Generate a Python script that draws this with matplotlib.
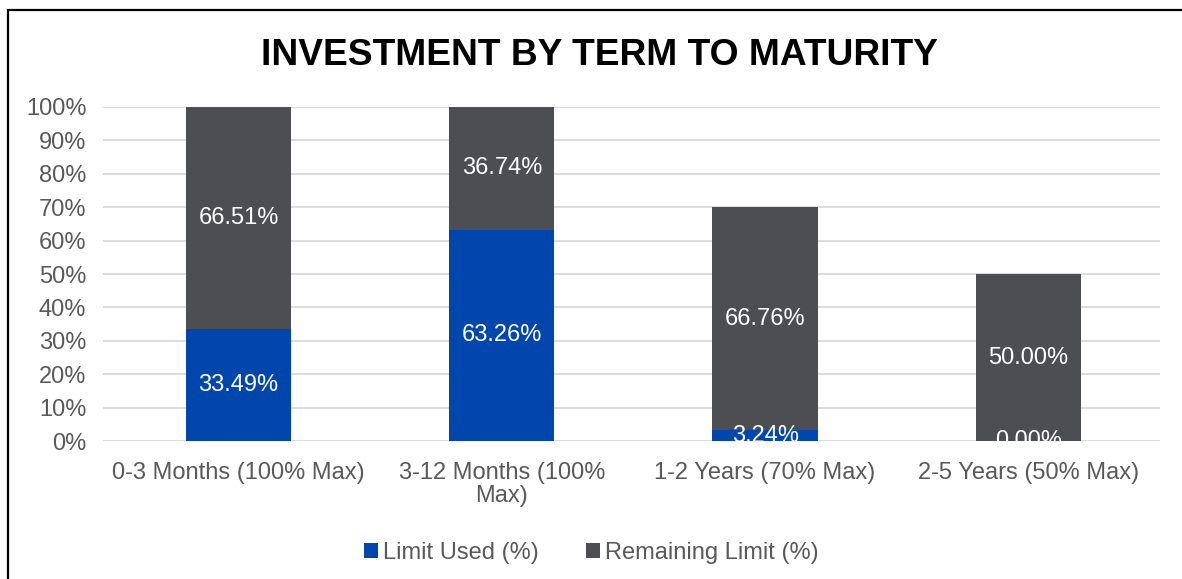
import matplotlib.pyplot as plt
from matplotlib.patches import Rectangle
from matplotlib.ticker import PercentFormatter

plt.rcParams['font.family'] = ['Liberation Sans', 'DejaVu Sans']

# chart data
categories = ["0-3 Months (100% Max)", "3-12 Months (100%\nMax)",
              "1-2 Years (70% Max)", "2-5 Years (50% Max)"]
limit_used = [33.49, 63.26, 3.24, 0.00]
remaining = [66.51, 36.74, 66.76, 50.00]
series_names = ["Limit Used (%)", "Remaining Limit (%)"]

blue = '#0046AD'
grey = '#4D4E52'
text_grey = '#595959'

fig = plt.figure(figsize=(11.82, 5.79), dpi=100)
ax = fig.add_axes([0.0871, 0.2383, 0.8943, 0.5769])

x = list(range(len(categories)))
b1 = ax.bar(x, limit_used, width=0.4, color=blue, label=series_names[0], zorder=2)
b2 = ax.bar(x, remaining, width=0.4, bottom=limit_used, color=grey,
            label=series_names[1], zorder=2)

# data labels, centred in each segment and clipped to the plot area like excel
for i in x:
    ax.text(i, limit_used[i] / 2, f"{limit_used[i]:.2f}%", ha='center', va='center',
            color='white', fontsize=17, clip_on=True, zorder=3)
    ax.text(i, limit_used[i] + remaining[i] / 2, f"{remaining[i]:.2f}%", ha='center',
            va='center', color='white', fontsize=17, clip_on=True, zorder=3)

ax.set_xlim(-0.515, len(categories) - 0.5)
ax.set_ylim(0, 100)
ax.set_yticks(range(0, 101, 10))
ax.yaxis.set_major_formatter(PercentFormatter(decimals=0))
ax.set_xticks(x)
ax.set_xticklabels(categories, linespacing=1.05)
ax.tick_params(axis='both', length=0, labelsize=17, labelcolor=text_grey)
ax.tick_params(axis='y', pad=12)
ax.tick_params(axis='x', pad=15)
ax.grid(axis='y', color='#D9D9D9', linewidth=1.3, zorder=0)
for s in ax.spines.values():
    s.set_visible(False)

fig.text(0.507, 0.905, "INVESTMENT BY TERM TO MATURITY", ha='center', va='center',
         fontsize=26.7, fontweight='bold', color='black')

leg = fig.legend(handles=[b1, b2], labels=series_names, loc='center',
                 bbox_to_anchor=(0.5, 0.045), ncol=2, frameon=False, fontsize=17,
                 handlelength=0.6, handleheight=0.6, handletextpad=0.2,
                 columnspacing=2.0)
for t in leg.get_texts():
    t.set_color(text_grey)

# outer chart border, running off the right and bottom edges
fig.patches.append(Rectangle((8 / 1182, -0.1), 1.2, 1 - 10 / 579 + 0.1,
                             transform=fig.transFigure, fill=False,
                             edgecolor='black', linewidth=1.6))

fig.savefig('out.png', dpi=100)
